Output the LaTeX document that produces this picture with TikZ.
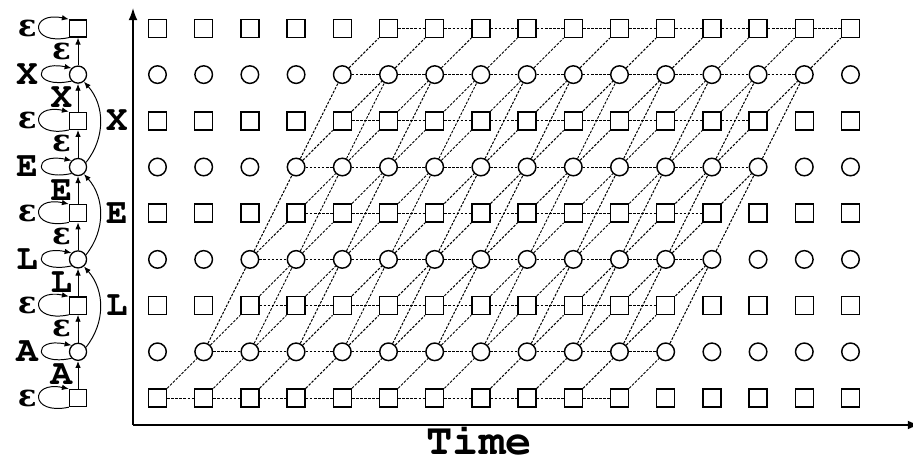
\documentclass[tikz,border=0pt]{standalone}
\usepackage[T1]{fontenc}
\usepackage{fontspec}
\newfontfamily\epsfont{DejaVu Serif}
\usetikzlibrary{arrows.meta}
\newcommand{\courb}[1]{\fontencoding{T1}\fontfamily{pcr}\fontseries{b}\fontsize{#1}{#1}\selectfont}
\newcommand{\epsi}{{\epsfont\bfseries\fontsize{19}{19}\selectfont ε}}
\tikzset{
  blanknode/.style={draw, line width=0.9pt, fill=white, minimum size=0.39cm, inner sep=0pt},
  labnode/.style={draw, line width=0.9pt, fill=white, circle, minimum size=0.38cm, inner sep=0pt},
  smallblank/.style={draw, thick, fill=white, minimum size=0.37cm, inner sep=0pt},
  smalllab/.style={draw, thick, fill=white, circle, minimum size=0.37cm, inner sep=0pt},
  trellis/.style={dash pattern=on 1.6pt off 0.9pt, line width=0.6pt},
  statearrow/.style={-{Latex[length=1.5mm,width=1.2mm]}, line width=0.6pt},
  axisline/.style={-{Latex[length=2.6mm,width=1.9mm]}, thick},
  symlabel/.style={font=\courb{22}, inner sep=0pt},
}

\begin{document}
\begin{tikzpicture}
\useasboundingbox (-3.409,-1.364) rectangle (16.353,8.615);
\foreach \i in {0,...,15}
  \foreach \j in {0,...,8}{
    \ifodd\j \node[labnode] (g-\i-\j) at (\i,\j) {};
    \else \node[blanknode] (g-\i-\j) at (\i,\j) {};
    \fi
  }
\foreach \j/\a/\b in {0/0/10,1/1/11,2/2/11,3/2/12,4/3/12,5/3/13,6/4/13,7/4/14,8/5/15}{
  \pgfmathtruncatemacro\c{\b-1}
  \foreach \i in {\a,...,\c}{
    \pgfmathtruncatemacro\n{\i+1}
    \draw[trellis] (g-\i-\j) -- (g-\n-\j);
  }
}
\foreach \j/\a/\b in {0/0/10,1/1/10,2/2/11,3/2/11,4/3/12,5/3/12,6/4/13,7/4/14}{
  \pgfmathtruncatemacro\k{\j+1}
  \foreach \i in {\a,...,\b}{
    \pgfmathtruncatemacro\n{\i+1}
    \draw[trellis] (g-\i-\j) -- (g-\n-\k);
  }
}
\foreach \j/\a/\b in {1/1/11,3/2/12,5/3/13}{
  \pgfmathtruncatemacro\k{\j+2}
  \foreach \i in {\a,...,\b}{
    \pgfmathtruncatemacro\n{\i+1}
    \draw[trellis] (g-\i-\j) -- (g-\n-\k);
  }
}
\foreach \j in {0,2,...,8}{
  \node[smallblank] (l-\j) at (-1.72,\j) {};
  \node[symlabel] (t-\j) at (-2.82,\j) {\epsi};
}
\foreach \j/\lbl in {1/A,3/L,5/E,7/X}{
  \node[smalllab] (l-\j) at (-1.72,\j) {};
  \node[symlabel] (t-\j) at (-2.82,\j) {\lbl};
}
\foreach \j in {0,...,8}
  \draw[statearrow] (l-\j.south west) .. controls +(-0.85,-0.18) and +(-0.85,0.18) .. (l-\j.north west);
\foreach \j/\k/\lbl in {0/1/A,2/3/L,4/5/E,6/7/X}{
  \draw[statearrow] (l-\j) -- (l-\k);
  \node[symlabel] (s-\k) at (-2.08,\k-0.5) {\lbl};
}
\foreach \j/\k in {1/2,3/4,5/6,7/8}{
  \draw[statearrow] (l-\j) -- (l-\k);
  \node[symlabel] (s-\k) at (-2.08,\k-0.5) {\epsi};
}
\foreach \j/\m/\k/\lbl in {1/2/3/L,3/4/5/E,5/6/7/X}{
  \draw[statearrow] (l-\j.30) to[bend right=40] (l-\k.-50);
  \node[symlabel] (r-\m) at (-0.88,\m) {\lbl};
}
\coordinate (origin) at (-0.53,-0.584);
\coordinate (ytop) at (-0.53,8.44);
\coordinate (xend) at (16.5,-0.584);
\draw[axisline] (origin) -- (ytop);
\draw[axisline] (origin) -- (xend);
\node[symlabel, font=\courb{27}, anchor=base] (time) at (6.96,-1.22) {Time};
\end{tikzpicture}
\end{document}
